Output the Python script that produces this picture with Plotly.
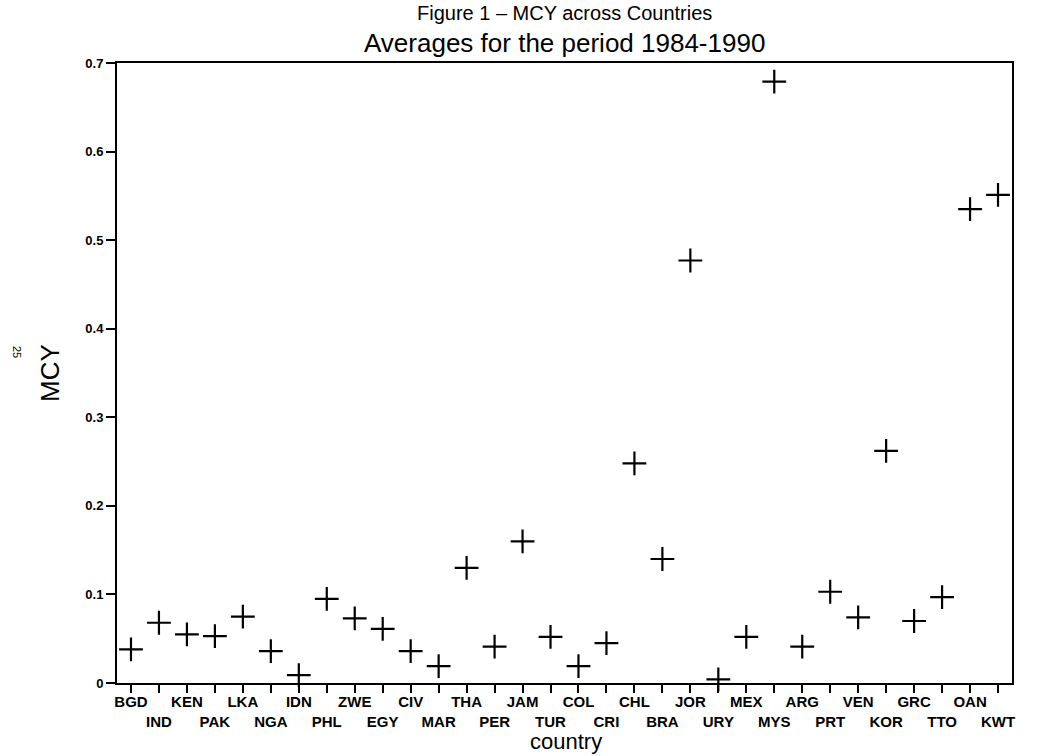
import plotly.graph_objects as go

countries = ["BGD", "IND", "KEN", "PAK", "LKA", "NGA", "IDN", "PHL", "ZWE", "EGY",
             "CIV", "MAR", "THA", "PER", "JAM", "TUR", "COL", "CRI", "CHL", "BRA",
             "JOR", "URY", "MEX", "MYS", "ARG", "PRT", "VEN", "KOR", "GRC", "TTO",
             "OAN", "KWT"]
mcy = [0.038, 0.068, 0.055, 0.053, 0.075, 0.036, 0.009, 0.095, 0.073, 0.061,
       0.036, 0.019, 0.130, 0.041, 0.160, 0.052, 0.019, 0.045, 0.248, 0.140,
       0.477, 0.004, 0.052, 0.679, 0.041, 0.103, 0.074, 0.262, 0.070, 0.097,
       0.535, 0.551]
y_ticks = [0, 0.1, 0.2, 0.3, 0.4, 0.5, 0.6, 0.7]
y_tick_labels = ["0", "0.1", "0.2", "0.3", "0.4", "0.5", "0.6", "0.7"]

x_pos = list(range(len(countries)))
tick_text = [c if i % 2 == 0 else "<br>" + c for i, c in enumerate(countries)]

FONT = "Liberation Sans, Arial, sans-serif"
PLOT_TOP, PLOT_BOTTOM, PLOT_LEFT, PLOT_W, PLOT_H = 63, 683, 117, 895, 620


def py(px):
    return (PLOT_BOTTOM - px) / PLOT_H


def px_x(px):
    return (px - PLOT_LEFT) / PLOT_W


fig = go.Figure()
fig.add_trace(go.Scatter(
    x=x_pos, y=mcy, mode="markers",
    marker=dict(symbol="cross-thin", size=17, color="black",
                line=dict(color="black", width=2.2)),
    showlegend=False, cliponaxis=False,
))

fig.update_layout(
    width=1048, height=756,
    margin=dict(l=117, r=36, t=63, b=73),
    paper_bgcolor="white", plot_bgcolor="white",
    font=dict(family=FONT, color="black"),
    xaxis=dict(
        range=[-0.5, len(countries) - 0.5],
        tickmode="array", tickvals=x_pos, ticktext=tick_text, tickangle=0,
        ticks="outside", ticklen=8, tickwidth=1.8, tickcolor="black",
        ticklabelstandoff=-4,
        tickfont=dict(family=FONT, size=15, color="black", weight="bold"),
        showline=True, linecolor="black", linewidth=2, mirror=True,
        showgrid=False, zeroline=False, automargin=False,
    ),
    yaxis=dict(
        range=[0, 0.7],
        tickmode="array", tickvals=y_ticks, ticktext=y_tick_labels,
        ticks="outside", ticklen=9, tickwidth=1.5, tickcolor="black",
        tickfont=dict(family=FONT, size=13, color="black", weight="bold"),
        showline=True, linecolor="black", linewidth=2, mirror=True,
        showgrid=False, zeroline=False, automargin=False,
    ),
    annotations=[
        dict(text="Figure 1 \u2013 MCY across Countries", xref="paper", yref="paper",
             x=0.5, y=py(0), xanchor="center", yanchor="top",
             showarrow=False, font=dict(family=FONT, size=20, color="black")),
        dict(text="Averages for the period 1984-1990", xref="paper", yref="paper",
             x=0.5, y=py(26), xanchor="center", yanchor="top",
             showarrow=False, font=dict(family=FONT, size=26, color="black")),
        dict(text="MCY", xref="paper", yref="paper",
             x=px_x(50), y=py(373), xanchor="center", yanchor="middle",
             textangle=-90, showarrow=False,
             font=dict(family=FONT, size=26, color="black")),
        dict(text="25", xref="paper", yref="paper",
             x=px_x(17), y=py(352), xanchor="center", yanchor="middle",
             textangle=90, showarrow=False,
             font=dict(family=FONT, size=11, color="black")),
        dict(text="country", xref="paper", yref="paper",
             x=px_x(566), y=py(756), xanchor="center", yanchor="bottom",
             showarrow=False, font=dict(family=FONT, size=22, color="black")),
    ],
)

fig.write_html("out.html")
